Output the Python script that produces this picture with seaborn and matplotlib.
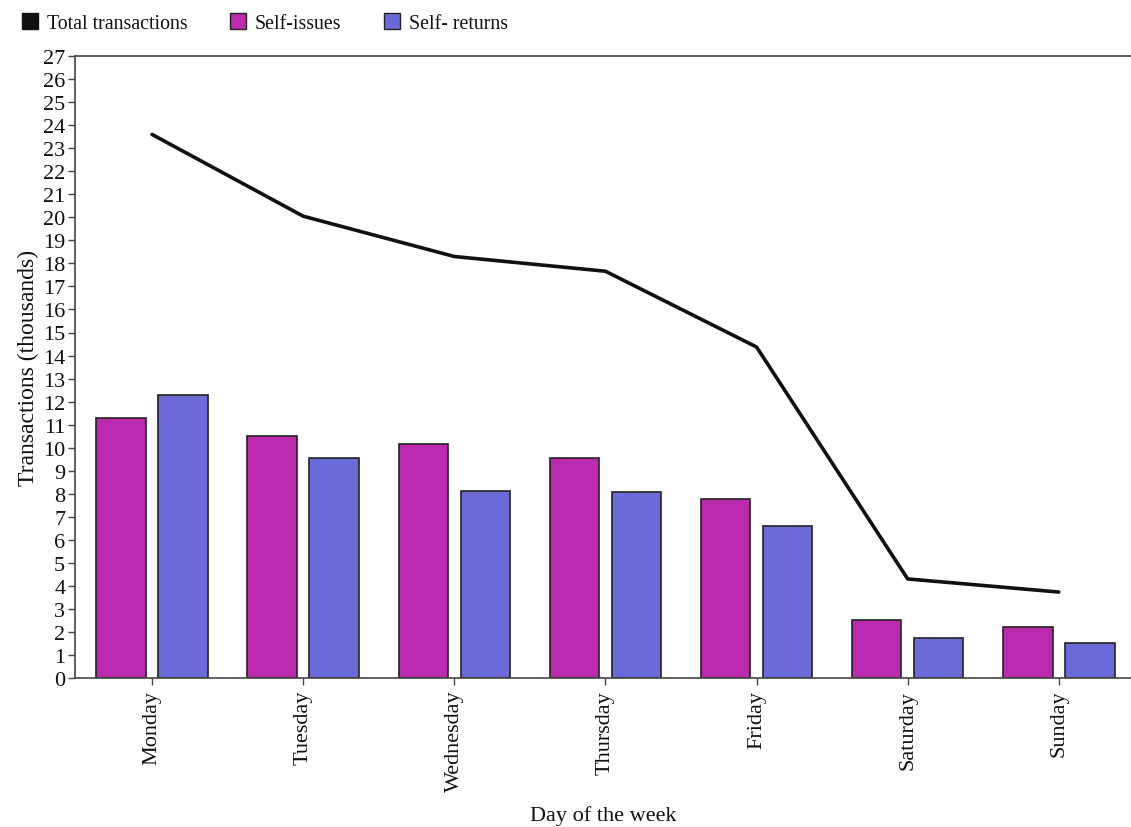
import numpy as np
import pandas as pd
import matplotlib
matplotlib.use('Agg')
import matplotlib.pyplot as plt
import seaborn as sns
from matplotlib.lines import Line2D

days = ['Monday', 'Tuesday', 'Wednesday', 'Thursday', 'Friday', 'Saturday', 'Sunday']
self_issues = [11.28, 10.5, 10.16, 9.55, 7.77, 2.52, 2.21]
self_returns = [12.28, 9.55, 8.12, 8.07, 6.6, 1.74, 1.52]
total = [23.6, 20.05, 18.3, 17.66, 14.37, 4.3, 3.73]

col_issues = '#BB29AE'
col_returns = '#6A6BD8'

sns.set_style('white')
plt.rcParams['font.family'] = ['Liberation Serif', 'DejaVu Serif']

df = pd.DataFrame({
    'day': days * 2,
    'value': self_issues + self_returns,
    'kind': ['Self-issues'] * len(days) + ['Self- returns'] * len(days),
})

fig = plt.figure(figsize=(11.31, 8.28), dpi=100)
ax = fig.add_axes([0.0663, 0.18, 0.934, 0.751])

sns.barplot(data=df, x='day', y='value', hue='kind', order=days,
            palette=[col_issues, col_returns], saturation=1, width=0.82, gap=0.2,
            edgecolor='#222222', linewidth=1.2, legend=False, ax=ax)
sns.lineplot(x=np.arange(len(days)), y=total, color='#111111', linewidth=2.6, ax=ax)

ax.set_ylim(0, 27)
ax.set_xlim(-0.51, 6.48)
ax.set_yticks(range(0, 28))
ax.tick_params(axis='y', length=5, width=1, color='#444444', labelsize=16, pad=2, left=True,
               labelcolor='#111111')
ax.tick_params(axis='x', length=5, width=1, color='#444444', labelsize=16, rotation=90, bottom=True,
               labelcolor='#111111')
ax.set_xlabel('Day of the week', fontsize=16, labelpad=10, color='#111111')
ax.set_ylabel('Transactions (thousands)', fontsize=17, labelpad=3, color='#111111')
for s in ['left', 'bottom', 'top']:
    ax.spines[s].set_color('#444444')
    ax.spines[s].set_linewidth(1.2)
ax.spines['right'].set_visible(False)

handles = [
    Line2D([], [], marker='s', linestyle='', markersize=11, markerfacecolor='#111111', markeredgecolor='#111111'),
    Line2D([], [], marker='s', linestyle='', markersize=11, markerfacecolor=col_issues, markeredgecolor='#222222'),
    Line2D([], [], marker='s', linestyle='', markersize=11, markerfacecolor=col_returns, markeredgecolor='#222222'),
]
fig.legend(handles, ['Total transactions', 'Self-issues', 'Self- returns'],
           loc='upper left', bbox_to_anchor=(0.002, 1.004), ncol=3, frameon=False,
           fontsize=14.3, handletextpad=0.35, columnspacing=2.05, handlelength=1.0,
           labelcolor='#111111')

fig.savefig('out.png', dpi=100)
